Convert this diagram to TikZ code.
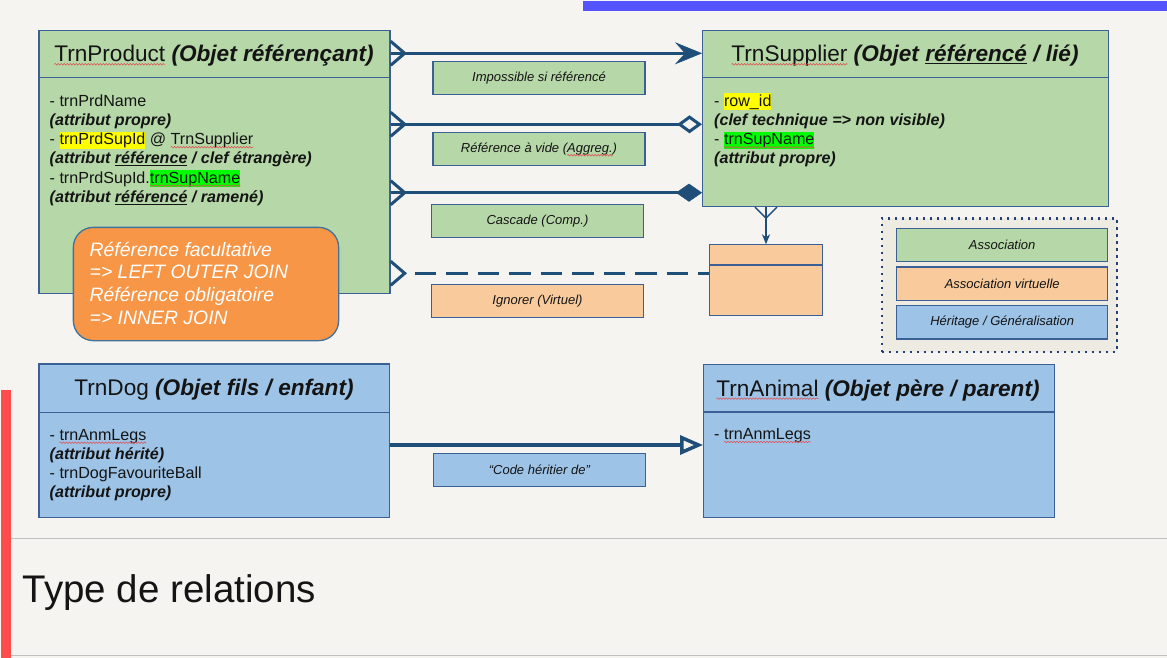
\documentclass[tikz,border=0pt]{standalone}
\usepackage{fontspec}
\setmainfont{Liberation Sans}
\usetikzlibrary{arrows.meta,calc,decorations.pathmorphing}
\definecolor{bg}{HTML}{F5F4F0}
\definecolor{grn}{HTML}{B6D7A8}
\definecolor{org}{HTML}{F9CB9C}
\definecolor{blu}{HTML}{9DC3E6}
\definecolor{bord}{HTML}{3A6095}
\definecolor{conncol}{HTML}{1F4E79}
\definecolor{calloutcol}{HTML}{F79646}
\definecolor{calloutbord}{HTML}{41719C}
\definecolor{legbg}{HTML}{EEECE2}
\definecolor{legdot}{HTML}{24407A}
\definecolor{txt}{HTML}{141414}
\definecolor{hlycol}{HTML}{FFFF00}
\definecolor{hlgcol}{HTML}{00FF00}
\definecolor{wavecol}{HTML}{E05050}
\definecolor{redbar}{HTML}{FF4B4B}
\definecolor{bluebar}{HTML}{5454FF}
\definecolor{sepcol}{HTML}{BFBFBF}
\newsavebox\spwbox
\newcommand\spw[1]{\sbox\spwbox{#1}\leavevmode\rlap{\usebox\spwbox}\tikz[baseline=0pt,x=1pt,y=1pt]{\useasboundingbox (0,0) rectangle (\the\wd\spwbox,0);\draw[wavecol, line width=0.55pt, decorate, decoration={snake, amplitude=0.8pt, segment length=3pt}] (0,-2.6) -- (\the\wd\spwbox,-2.6);}}
\newcommand\ulin[1]{\sbox\spwbox{#1}\leavevmode\rlap{\usebox\spwbox}\rule[-2.6pt]{\wd\spwbox}{1.3pt}}
\newcommand\bi[1]{\textbf{\textit{#1}}}
\newcommand\hly[1]{{\setlength\fboxsep{0pt}\colorbox{hlycol}{\rule[-4pt]{0pt}{17pt}#1}}}
\newcommand\hlg[1]{{\setlength\fboxsep{0pt}\colorbox{hlgcol}{\rule[-4pt]{0pt}{17pt}#1}}}
\begin{document}
\begin{tikzpicture}[x=1pt,y=-1pt,
  umlbox/.style={draw=bord, line width=1.4pt, inner sep=0pt, anchor=north west},
  divider/.style={draw=bord, line width=1.4pt},
  hdr/.style={inner sep=0pt, anchor=base, font=\fontsize{22.6}{26}\selectfont, text=txt},
  body/.style={anchor=north west, inner sep=0pt, align=left, font=\fontsize{16.1}{19.2}\selectfont, text=txt},
  lab/.style={draw=bord, line width=1.3pt, minimum width=212pt, minimum height=33pt, inner sep=0pt, font=\fontsize{13}{15}\selectfont\itshape, text=txt},
  legitem/.style={draw=bord, line width=1.3pt, minimum width=211pt, minimum height=33.4pt, inner sep=0pt, font=\fontsize{13}{15}\selectfont\itshape, text=txt},
  connline/.style={draw=conncol, line width=3.5pt},
  crow/.style={draw=conncol, line width=3pt},
  thinconn/.style={draw=conncol, line width=1.3pt}]
\useasboundingbox (0,0) rectangle (1167,658);
\fill[bg] (0,0) rectangle (1167,658);
\fill[bluebar] (583,1) rectangle (1167,10.7);
\fill[redbar] (1.3,390) rectangle (10.7,658);
\draw[sepcol, line width=1.2pt] (10.7,538.3) -- (1167,538.3);
\draw[sepcol, line width=1.2pt] (10.7,655.5) -- (1167,655.5);

% row levels
\coordinate (r1) at (0,53.3);
\coordinate (r2) at (0,124.3);
\coordinate (r3) at (0,192.7);
\coordinate (r4) at (0,273.3);
\coordinate (r5) at (0,445);
\coordinate (vx) at (766,0);

% TrnProduct
\node[umlbox, fill=grn, minimum width=351pt, minimum height=263pt] (prod) at (38.3,30) {};
\draw[divider] ([yshift=-47.7pt]prod.north west) -- ([yshift=-47.7pt]prod.north east);
\node[hdr] (prodh) at (214,61.7) {\spw{TrnProduct} \bi{(Objet référençant)}};
\node[body] (prodb) at (49.5,92.6) {\strut - trnPrdName\\
\strut\bi{(attribut propre)}\\
\strut - \hly{trnPrdSupId} @ \spw{TrnSupplier}\\
\strut\bi{(attribut \ulin{référence} / clef étrangère)}\\
\strut - trnPrdSupId.\hlg{\spw{trnSupName}}\\
\strut\bi{(attribut \ulin{référencé} / ramené)}};

% TrnSupplier
\node[umlbox, fill=grn, minimum width=406pt, minimum height=175.7pt] (sup) at (702,30) {};
\draw[divider] ([yshift=-47.7pt]sup.north west) -- ([yshift=-47.7pt]sup.north east);
\node[hdr] (suph) at (905,61.7) {\spw{TrnSupplier} \bi{(Objet \ulin{référencé} / lié)}};
\node[body] (supb) at (714,92.6) {\strut - \hly{row\_id}\\
\strut\bi{(clef technique => non visible)}\\
\strut - \hlg{\spw{trnSupName}}\\
\strut\bi{(attribut propre)}};

% virtual box
\node[umlbox, fill=org, line width=1.1pt, minimum width=113pt, minimum height=70.7pt] (virt) at (709,244.3) {};
\draw[divider, line width=1.1pt] ([yshift=-20.7pt]virt.north west) -- ([yshift=-20.7pt]virt.north east);

% TrnDog
\node[umlbox, fill=blu, minimum width=350.7pt, minimum height=153.4pt] (dog) at (38.3,363.3) {};
\draw[divider] ([yshift=-49pt]dog.north west) -- ([yshift=-49pt]dog.north east);
\node[hdr] (dogh) at (214,395) {TrnDog \bi{(Objet fils / enfant)}};
\node[body] (dogb) at (49.5,426.5) {\strut - \spw{trnAnmLegs}\\
\strut\bi{(attribut hérité)}\\
\strut - trnDogFavouriteBall\\
\strut\bi{(attribut propre)}};

% TrnAnimal
\node[umlbox, fill=blu, minimum width=351pt, minimum height=152.7pt] (ani) at (703,364) {};
\draw[divider] ([yshift=-48pt]ani.north west) -- ([yshift=-48pt]ani.north east);
\node[hdr] (anih) at (878,396) {\spw{TrnAnimal} \bi{(Objet père / parent)}};
\node[body] (anib) at (714,425.8) {\strut - \spw{trnAnmLegs}};

% callout
\node[anchor=north west, fill=calloutcol, draw=calloutbord, line width=1.3pt, rounded corners=20pt, minimum width=265.3pt, minimum height=113.3pt, inner sep=0pt] (call) at (72.7,226.7) {};
\node[anchor=north west, inner sep=0pt, align=left, text=white, font=\fontsize{19.4}{22.7}\selectfont\itshape] (callt) at (89.5,240.1) {\strut Référence facultative\\ \strut => LEFT OUTER JOIN\\ \strut Référence obligatoire\\ \strut => INNER JOIN};

% labels
\node[lab, fill=grn] (l1) at (539,77.7) {Impossible si référencé};
\node[lab, fill=grn] (l2) at (539,149.2) {Référence à vide (\spw{Aggreg.})};
\node[lab, fill=grn] (l3) at (537.5,220.7) {Cascade (Comp.)};
\node[lab, fill=org] (l4) at (537.5,300.7) {Ignorer (Virtuel)};
\node[lab, fill=blu] (l5) at (539.4,470) {“Code héritier de”};

% legend
\node[anchor=north west, fill=legbg, draw=legdot, line width=2.5pt, dash pattern=on 2.5pt off 4.5pt, minimum width=235pt, minimum height=133.5pt, inner sep=0pt] (leg) at (880.5,217) {};
\node[legitem, fill=grn] (lg1) at (1002.2,245) {Association};
\node[legitem, fill=org] (lg2) at (1002.2,283.7) {Association virtuelle};
\node[legitem, fill=blu] (lg3) at (1002.2,322.3) {Héritage / Généralisation};

% connectors
\coordinate (s1) at (prod.east |- r1);
\coordinate (s2) at (prod.east |- r2);
\coordinate (s3) at (prod.east |- r3);
\coordinate (s4) at (prod.east |- r4);
\foreach \s in {s1,s2,s3,s4}{
  \draw[crow] ($(\s)+(0,-12)$) -- ($(\s)+(14,0)$) -- ($(\s)+(0,12)$);
}
\draw[connline, -{Stealth[length=27pt, width=22pt, inset=10pt, line width=0.5pt]}] (s1) -- (sup.west |- r1);
\draw[connline, -{Diamond[open, length=25pt, width=18pt, line width=3pt]}] (s2) -- (sup.west |- r2);
\draw[connline, -{Diamond[length=26pt, width=18pt, line width=0.5pt]}] (s3) -- (sup.west |- r3);
\draw[connline, dash pattern=on 21.5pt off 10pt, dash phase=21.5pt] ($(s4)+(14,0)$) -- (virt.west |- r4);

% supplier -> virtual
\coordinate (sv) at (sup.south -| vx);
\draw[thinconn] ($(sv)+(-11,0)$) -- ($(sv)+(0,11)$) -- ($(sv)+(11,0)$);
\draw[thinconn, -{Stealth[length=10pt, width=8pt, inset=3pt]}] (sv) -- (virt.north -| vx);

% inheritance
\draw[connline, line width=4pt, -{Triangle[open, length=23pt, width=19pt, line width=3.5pt]}] (dog.east |- r5) -- (ani.west |- r5);

% title
\node[anchor=base west, inner sep=0pt, text=txt, font=\fontsize{38.5}{44}\selectfont] (title) at (22.5,602) {Type de relations};
\end{tikzpicture}
\end{document}
